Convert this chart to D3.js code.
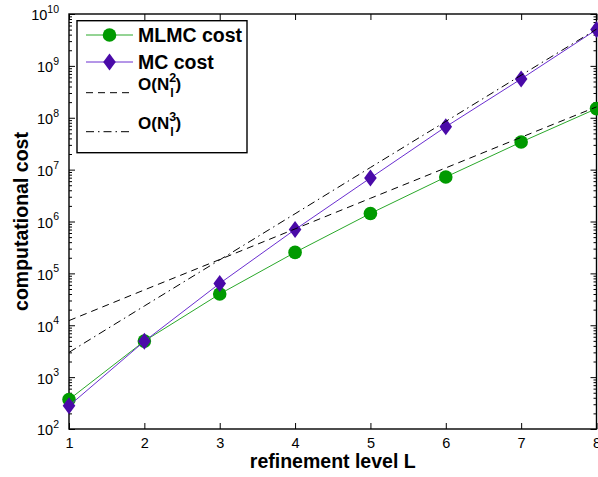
<!DOCTYPE html>
<html><head><meta charset="utf-8">
<script src="https://cdn.jsdelivr.net/npm/d3@7"></script>
<style>
body{margin:0;background:#fff;}
svg{display:block;font-family:"Liberation Sans",Arial,Helvetica,sans-serif;}
</style></head>
<body><svg id="chart" width="598" height="477"></svg>
<script>
const levels = [1,2,3,4,5,6,7,8];
const mlmcCost = [370, 4950, 40000, 254000, 1.43e6, 7.2e6, 3.4e7, 1.5e8];
const mcCost = [280, 4900, 64000, 7.0e5, 6.9e6, 6.7e7, 5.6e8, 5.0e9];
const orderN2 = [1.23e4, 4.8e4, 1.85e5, 7.2e5, 2.8e6, 1.08e7, 4.2e7, 1.62e8];
const orderN3 = [3.0e3, 2.35e4, 1.82e5, 1.41e6, 1.1e7, 8.5e7, 6.6e8, 5.1e9];
const xTicks = [1,2,3,4,5,6,7,8];
const yExponents = [2,3,4,5,6,7,8,9,10];

const svg = d3.select("#chart");
const L = 69, R = 596.5, T = 14, B = 429;
const x = d3.scaleLinear().domain([1,8]).range([L,R]);
const y = d3.scaleLog().domain([1e2,1e10]).range([B,T]);

const minor = [];
for (let e=2;e<10;e++) for (let m=2;m<10;m++) minor.push(m*Math.pow(10,e));
const major = yExponents.map(e=>Math.pow(10,e));

function styleAxis(g){
  g.select(".domain").remove();
  g.selectAll(".tick line").attr("stroke","#000").attr("stroke-width",1);
}
// bottom
const gb = svg.append("g").attr("transform",`translate(0,${B})`)
  .call(d3.axisBottom(x).tickValues(xTicks).tickSize(-6).tickPadding(8.5).tickFormat(d3.format("d")));
styleAxis(gb);
gb.selectAll("text").attr("font-size",14.5).attr("fill","#000").attr("font-family","Liberation Sans, Arial, sans-serif");
// top
const gt = svg.append("g").attr("transform",`translate(0,${T})`)
  .call(d3.axisTop(x).tickValues(xTicks).tickSize(-6).tickFormat(""));
styleAxis(gt);
// left major
const gl = svg.append("g").attr("transform",`translate(${L},0)`)
  .call(d3.axisLeft(y).tickValues(major).tickSize(-6).tickPadding(10).tickFormat(""));
styleAxis(gl);
gl.selectAll(".tick").each(function(d){
  const t = d3.select(this).select("text");
  t.attr("font-size",14.5).attr("fill","#000").attr("font-family","Liberation Sans, Arial, sans-serif")
   .attr("dy","0.41em");
  t.append("tspan").text("10");
  t.append("tspan").attr("font-size",10.5).attr("dy",-7.5).text(String(Math.round(Math.log10(d))));
});
const glm = svg.append("g").attr("transform",`translate(${L},0)`)
  .call(d3.axisLeft(y).tickValues(minor).tickSize(-3).tickFormat(""));
styleAxis(glm);
// right
const gr = svg.append("g").attr("transform",`translate(${R},0)`)
  .call(d3.axisRight(y).tickValues(major).tickSize(-6).tickFormat(""));
styleAxis(gr);
const grm = svg.append("g").attr("transform",`translate(${R},0)`)
  .call(d3.axisRight(y).tickValues(minor).tickSize(-3).tickFormat(""));
styleAxis(grm);

// box
svg.append("rect").attr("x",L).attr("y",T).attr("width",R-L).attr("height",B-T)
  .attr("fill","none").attr("stroke","#000").attr("stroke-width",1.4);

const line = d3.line().x((d,i)=>x(levels[i])).y(d=>y(d));
const greenLine="#2aa82a", greenMark="#009a00", purpLine="#6a2ed0", purpMark="#4a0aa8";

// MLMC
svg.append("path").datum(mlmcCost).attr("d",line).attr("fill","none").attr("stroke",greenLine).attr("stroke-width",1);
svg.append("g").selectAll("circle").data(mlmcCost).join("circle")
  .attr("cx",(d,i)=>x(levels[i])).attr("cy",d=>y(d)).attr("r",6.8).attr("fill",greenMark);
// MC
const diamond = "M0,-8.5L6.3,0L0,8.5L-6.3,0Z";
svg.append("path").datum(mcCost).attr("d",line).attr("fill","none").attr("stroke",purpLine).attr("stroke-width",1);
svg.append("g").selectAll("path").data(mcCost).join("path")
  .attr("transform",(d,i)=>`translate(${x(levels[i])},${y(d)})`).attr("d",diamond).attr("fill",purpMark);
// reference lines
svg.append("path").datum(orderN2).attr("d",line).attr("fill","none").attr("stroke","#000").attr("stroke-width",1).attr("stroke-dasharray","7,5");
svg.append("path").datum(orderN3).attr("d",line).attr("fill","none").attr("stroke","#000").attr("stroke-width",1).attr("stroke-dasharray","8,4,1.5,4");

// axis labels
svg.append("text").attr("x",(L+R)/2).attr("y",468).attr("text-anchor","middle")
  .attr("font-size",19.5).attr("font-weight","bold").text("refinement level L");
svg.append("text").attr("transform",`translate(28,${(T+B)/2}) rotate(-90)`).attr("text-anchor","middle")
  .attr("font-size",19.5).attr("font-weight","bold").text("computational cost");

// legend
const lg = svg.append("g");
lg.append("rect").attr("x",77).attr("y",20.7).attr("width",170).attr("height",132)
  .attr("fill","#fff").attr("stroke","#000").attr("stroke-width",1.4);
const lx0=86, lx1=133, tx=138;
lg.append("line").attr("x1",lx0).attr("x2",lx1).attr("y1",35).attr("y2",35).attr("stroke",greenLine);
lg.append("circle").attr("cx",(lx0+lx1)/2).attr("cy",35).attr("r",6.8).attr("fill",greenMark);
lg.append("text").attr("x",tx).attr("y",42).attr("font-size",19.5).attr("font-weight","bold").text("MLMC cost");
lg.append("line").attr("x1",lx0).attr("x2",lx1).attr("y1",62).attr("y2",62).attr("stroke",purpLine);
lg.append("path").attr("transform",`translate(${(lx0+lx1)/2},62)`).attr("d",diamond).attr("fill",purpMark);
lg.append("text").attr("x",tx).attr("y",69).attr("font-size",19.5).attr("font-weight","bold").text("MC cost");
lg.append("line").attr("x1",lx0).attr("x2",lx1).attr("y1",92.7).attr("y2",92.7).attr("stroke","#000").attr("stroke-dasharray","7,5");
lg.append("line").attr("x1",lx0).attr("x2",lx1).attr("y1",131.7).attr("y2",131.7).attr("stroke","#000").attr("stroke-dasharray","8,4,1.5,4");
function orderLabel(yb, p){
  const t = lg.append("text").attr("x",tx).attr("y",yb).attr("font-size",17).attr("font-weight","bold");
  t.append("tspan").text("O(N");
  t.append("tspan").attr("font-size",12.5).attr("dy",-8).text(p);
  t.append("tspan").attr("font-size",12.5).attr("dx",-6).attr("dy",15).text("l");
  t.append("tspan").attr("dx",2).attr("dy",-7).text(")");
}
orderLabel(90, "2");
orderLabel(129, "3");
</script></body></html>
